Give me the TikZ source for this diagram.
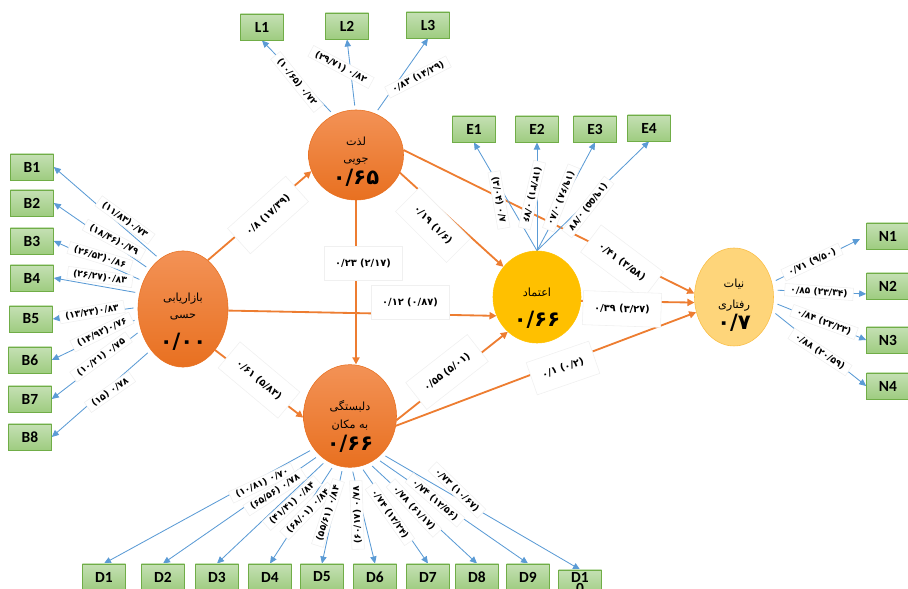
\documentclass[tikz,border=0pt]{standalone}
\usepackage{fontspec}
\setmainfont{Carlito}
\newfontfamily\fa[Script=Arabic]{DejaVu Sans}
\newfontfamily\fanum{DejaVu Sans}
\TeXXeTstate=1
\usetikzlibrary{positioning, arrows.meta, shapes.geometric, backgrounds}
\definecolor{indTop}{RGB}{197,224,180}
\definecolor{indBot}{RGB}{158,204,128}
\definecolor{indBorder}{RGB}{112,173,71}
\definecolor{orgTop}{RGB}{243,146,86}
\definecolor{orgBot}{RGB}{232,112,32}
\definecolor{gold}{RGB}{255,192,0}
\definecolor{nyFill}{RGB}{254,213,122}
\definecolor{nyBorder}{RGB}{250,190,70}
\definecolor{pathOrange}{RGB}{237,125,49}
\definecolor{loadBlue}{RGB}{91,155,213}
\newcommand\bignum{\fontsize{15}{16}\selectfont\bfseries}
\tikzset{
    indbox/.style={draw=indBorder, top color=indTop, bottom color=indBot, minimum width=1.075cm, minimum height=0.66cm, inner sep=1pt, font=\fontsize{11}{11}\selectfont\bfseries},
    orgvar/.style={ellipse, draw=orgBot, top color=orgTop, bottom color=orgBot, inner sep=0pt, align=center, font=\fa\fontsize{8}{12}\selectfont},
    trustvar/.style={ellipse, draw=gold, fill=gold, inner sep=0pt, align=center, font=\fa\fontsize{8}{12}\selectfont},
    intvar/.style={ellipse, draw=nyBorder, fill=nyFill, inner sep=0pt, align=center, font=\fa\fontsize{8}{12}\selectfont},
    pathar/.style={draw=pathOrange, line width=1.3pt, -{Triangle[length=5pt, width=5pt]}},
    loadar/.style={draw=loadBlue, line width=0.6pt, shorten <=3pt, -{Triangle[length=5pt, width=4.5pt]}},
    wlbl/.style={fill=white, draw=black!6, inner xsep=4pt, inner ysep=1.5pt, font=\fanum\fontsize{6.5}{7}\selectfont\bfseries},
    plbl/.style={fill=white, draw=black!6, inner xsep=8pt, inner ysep=9pt, font=\fanum\fontsize{7}{8}\selectfont\bfseries},
}

\begin{document}
\begin{tikzpicture}[x=0.025cm, y=-0.025cm]
    \useasboundingbox (0,0) rectangle (908,589);
    % Constructos
    \node[orgvar, minimum width=2.25cm, minimum height=2.8cm] (mkt) at (183,309) {\rule{0pt}{24pt}\beginR بازاریابی\endR\\\beginR حسی\endR\\[9pt]{\bignum ۰/۰۰}};
    \node[orgvar, minimum width=2.375cm, minimum height=2.1cm] (lez) at (356,155) {\rule{0pt}{16pt}\beginR لذت\endR\\\beginR جویی\endR\\[2pt]{\bignum ۰/۶۵}};
    \node[trustvar, minimum width=2.2cm, minimum height=2.3cm] (etm) at (537,297) {\rule{0pt}{22pt}\beginR اعتماد\endR\\[10pt]{\bignum ۰/۶۶}};
    \node[orgvar, minimum width=2.325cm, minimum height=2.2cm] (dlb) at (350,416) {\rule{0pt}{22pt}\beginR دلبستگی\endR\\[1pt]\beginR به مکان\endR\\[2pt]{\bignum ۰/۶۶}};
    \node[intvar, minimum width=1.975cm, minimum height=2cm] (nyt) at (734,297) {\rule{0pt}{18pt}\beginR نیات\endR\\[3pt]\beginR رفتاری\endR\\[1pt]{\bignum ۰/۷}};
    % Gویه‌ها
    \node[indbox] (l1) at (262,27) {L1};
    \node[indbox] (l2) at (347,26) {L2};
    \node[indbox] (l3) at (428,25) {L3};
    \node[indbox] (e1) at (474,129) {E1};
    \node[indbox] (e2) at (537,129) {E2};
    \node[indbox] (e3) at (595,129) {E3};
    \node[indbox] (e4) at (649,128) {E4};
    \node[indbox] (b1) at (32,167) {B1};
    \node[indbox] (b2) at (32,203) {B2};
    \node[indbox] (b3) at (32,241) {B3};
    \node[indbox] (b4) at (32,278) {B4};
    \node[indbox] (b5) at (31,319) {B5};
    \node[indbox] (b6) at (30,360) {B6};
    \node[indbox] (b7) at (30,399) {B7};
    \node[indbox] (b8) at (30,437) {B8};
    \node[indbox] (n1) at (888,236) {N1};
    \node[indbox] (n2) at (888,286) {N2};
    \node[indbox] (n3) at (888,340) {N3};
    \node[indbox] (n4) at (888,386) {N4};
    \node[indbox] (d1) at (104,577) {D1};
    \node[indbox] (d2) at (163,577) {D2};
    \node[indbox] (d3) at (217,577) {D3};
    \node[indbox] (d4) at (270,577) {D4};
    \node[indbox] (d5) at (322,577) {D5};
    \node[indbox] (d6) at (375,577) {D6};
    \node[indbox] (d7) at (428,577) {D7};
    \node[indbox] (d8) at (477,577) {D8};
    \node[indbox] (d9) at (528,577) {D9};
    \node[indbox, align=center, inner ysep=0pt] (d10) at (580,583) {D1\\[-3pt]0};

    \begin{pgfonlayer}{background}
    % Mسیرهای ساختاری
    \draw[pathar] (mkt.63)  -- (lez.200);
    \draw[pathar] (mkt.358) -- (etm.205);
    \draw[pathar] (mkt.308) -- (dlb.182);
    \draw[pathar] (lez.south) -- (lez.south |- dlb.north);
    \draw[pathar] (lez.338) -- (etm.138);
    \draw[pathar] (lez.6)   -- (nyt.175);
    \draw[pathar] (etm.355) -- (nyt.188);
    \draw[pathar] (dlb.355) -- (etm.230);
    \draw[pathar] (dlb.348) -- (nyt.202);
    % Bارهای عاملی
    \draw[loadar] (lez.119) -- (l1.south);
    \draw[loadar] (lez.91)  -- (l2.south);
    \draw[loadar] (lez.65)  -- (l3.south);
    \draw[loadar, shorten <=0pt] (etm.north) -- (e1.south);
    \draw[loadar, shorten <=0pt] (etm.north) -- (e2.south);
    \draw[loadar, shorten <=0pt] (etm.north) -- (e3.south);
    \draw[loadar, shorten <=0pt] (etm.north) -- (e4.south);
    \draw[loadar] (mkt.115) -- (b1.east);
    \draw[loadar] (mkt.130) -- (b2.east);
    \draw[loadar] (mkt.145) -- (b3.east);
    \draw[loadar] (mkt.160) -- (b4.east);
    \draw[loadar] (mkt.178) -- (b5.east);
    \draw[loadar] (mkt.192) -- (b6.east);
    \draw[loadar] (mkt.207) -- (b7.east);
    \draw[loadar] (mkt.232) -- (b8.east);
    \draw[loadar, shorten >=5pt] (nyt.21)  -- (n1.west);
    \draw[loadar] (nyt.10)  -- (n2.200);
    \draw[loadar] (nyt.352) -- (n3.west);
    \draw[loadar] (nyt.340) -- (n4.west);
    \draw[loadar] (dlb.222) -- (d1.north);
    \draw[loadar] (dlb.232) -- (d2.north);
    \draw[loadar] (dlb.242) -- (d3.north);
    \draw[loadar] (dlb.252) -- (d4.north);
    \draw[loadar] (dlb.262) -- (d5.north);
    \draw[loadar] (dlb.272) -- (d6.north);
    \draw[loadar] (dlb.282) -- (d7.north);
    \draw[loadar] (dlb.292) -- (d8.north);
    \draw[loadar] (dlb.302) -- (d9.north);
    \draw[loadar] (dlb.310) -- (d10.north);
    % Bرچسب بارها
    \node[wlbl, rotate=-51] (tl1) at (297,82) {\beginR ۰/۷۲ (۱۰/۶۵)\endR};
    \node[wlbl, rotate=-28] (tl2) at (341,67) {\beginR ۰/۸۲ (۲۹/۷۱)\endR};
    \node[wlbl, rotate=27]  (tl3) at (418,77) {\beginR (۱۴/۲۹) ۰/۸۳\endR};
    \node[wlbl, rotate=-36] (tb1) at (125,220) {\beginR ۰/۷۳\kern0pt (۱۱/۸۳)\endR};
    \node[wlbl, rotate=-28] (tb2) at (114,240) {\beginR ۰/۷۹\kern0pt (۱۸/۴۶)\endR};
    \node[wlbl, rotate=-17] (tb3) at (100,257) {\beginR ۰/۸۶\kern0pt (۲۶/۵۲)\endR};
    \node[wlbl, rotate=-8]  (tb4) at (100,277) {\beginR ۰/۸۳\kern0pt (۲۶/۲۷)\endR};
    \node[wlbl, rotate=10]  (tb5) at (92,312)  {\beginR ۰/۸۳\kern0pt (۱۳/۲۳)\endR};
    \node[wlbl, rotate=26]  (tb6) at (102,332) {\beginR ۰/۷۶\kern0pt (۱۴/۹۲)\endR};
    \node[wlbl, rotate=36]  (tb7) at (101,357) {\beginR ۰/۷۵ (۱۰/۲۱)\endR};
    \node[wlbl, rotate=35]  (tb8) at (110,392) {\beginR ۰/۷۸ (۱۵)\endR};
    \node[wlbl, rotate=-80]  (te1) at (499,200) {\beginR ۰/۷ (۳/۰۴)\endR};
    \node[wlbl, rotate=-103] (te2) at (532,195) {\beginR ۰/۷۶ (۱۳/۳۱)\endR};
    \node[wlbl, rotate=-112] (te3) at (561,198) {\beginR ۰/۸۰ (۱۹/۶۸)\endR};
    \node[wlbl, rotate=-128] (te4) at (588,207) {\beginR ۰/۷۷ (۱۹/۵۵)\endR};
    \node[wlbl, rotate=25]  (tn1) at (812,262) {\beginR (۹/۵۰) ۰/۷۱\endR};
    \node[wlbl, rotate=-4]  (tn2) at (819,292) {\beginR (۲۳/۳۴) ۰/۸۵\endR};
    \node[wlbl, rotate=-20] (tn3) at (824,322) {\beginR (۲۳/۲۳) ۰/۸۴\endR};
    \node[wlbl, rotate=-33] (tn4) at (820,352) {\beginR (۲۰/۵۹) ۰/۸۸\endR};
    \node[wlbl, rotate=25]  (td1) at (262,483) {\beginR ۰/۷۰ (۱۰/۸۱)\endR};
    \node[wlbl, rotate=33]  (td2) at (275,492) {\beginR ۰/۷۸ (۶۵/۵۶)\endR};
    \node[wlbl, rotate=42]  (td3) at (292,503) {\beginR ۰/۸۴ (۴۱/۴۱)\endR};
    \node[wlbl, rotate=46]  (td4) at (308,511) {\beginR ۰/۸۴ (۶۸/۰۱)\endR};
    \node[wlbl, rotate=72]  (td5) at (328,513) {\beginR ۰/۸۴ (۵۵/۶۱)\endR};
    \node[wlbl, rotate=92]  (td6) at (357,515) {\beginR ۰/۷۸ (۶۰/۱۷)\endR};
    \node[wlbl, rotate=-55] (td7) at (390,514) {\beginR (۱۲/۲۴) ۰/۷۴\endR};
    \node[wlbl, rotate=-47] (td8) at (414,508) {\beginR (۶۱/۱۷) ۰/۷۸\endR};
    \node[wlbl, rotate=-41] (td9) at (435,500) {\beginR (۱۲/۵۶) ۰/۷۴\endR};
    \node[wlbl, rotate=-44] (td10) at (457,490) {\beginR (۱۰/۶۷) ۰/۷۳\endR};
    % Bرچسب مسیرها
    \node[plbl, rotate=42]  (p1) at (268,215) {\beginR (۱۷/۳۹) ۰/۸\endR};
    \node[plbl]             (p2) at (410,302) {\beginR (۰/۸۷) ۰/۱۲\endR};
    \node[plbl, rotate=-40] (p3) at (259,380) {\beginR (۵/۸۳) ۰/۶۱\endR};
    \node[plbl]             (p4) at (363,263) {\beginR (۲/۱۷) ۰/۲۳\endR};
    \node[plbl, rotate=-45] (p5) at (433,225) {\beginR (۱/۶) ۰/۱۹\endR};
    \node[plbl, rotate=-37] (p6) at (622,262) {\beginR (۳/۵۸) ۰/۴۱\endR};
    \node[plbl, rotate=-2]  (p7) at (622,309) {\beginR (۳/۲۷) ۰/۳۹\endR};
    \node[plbl, rotate=38]  (p8) at (447,372) {\beginR (۵/۰۱) ۰/۵۵\endR};
    \node[plbl, rotate=19]  (p9) at (563,368) {\beginR (۰/۲) ۰/۱\endR};
    \end{pgfonlayer}
\end{tikzpicture}
\end{document}
